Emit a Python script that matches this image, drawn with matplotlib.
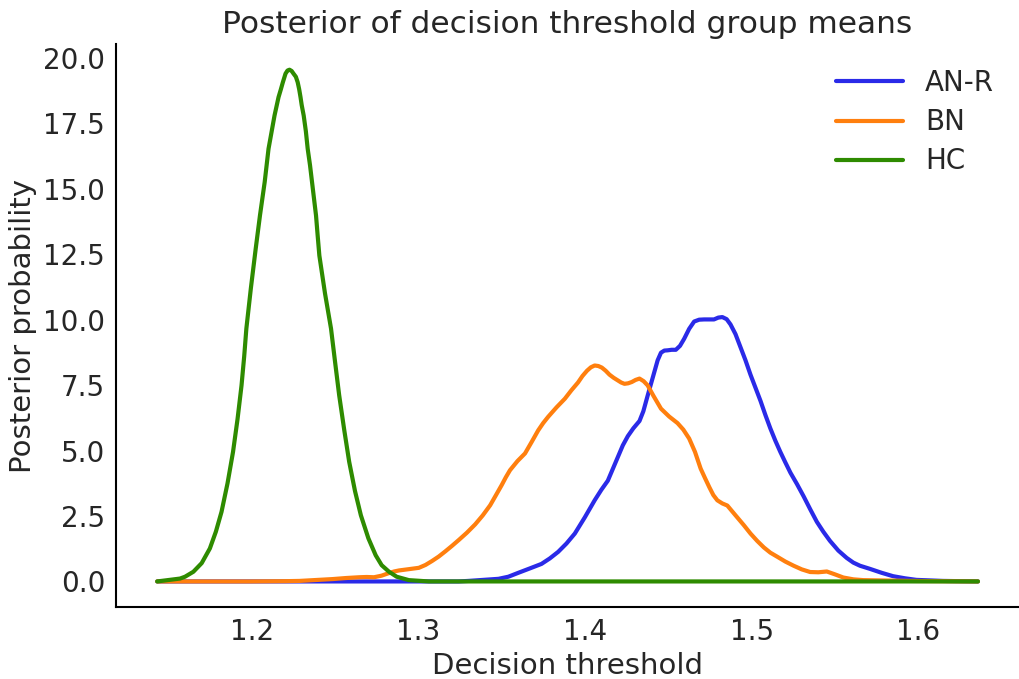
import matplotlib
matplotlib.use("Agg")
import matplotlib.pyplot as plt

# posterior density of the group-mean decision threshold, one curve per group
groups = ["AN-R", "BN", "HC"]
colors = ["#2a2ae8", "#ff7f0e", "#2e8b00"]

anr_x = [1.1433, 1.2287, 1.3242, 1.3300, 1.3481, 1.3540, 1.3600, 1.3670, 1.3739,
         1.3789, 1.3839, 1.3889, 1.3939, 1.3999, 1.4058, 1.4098, 1.4137, 1.4167,
         1.4197, 1.4227, 1.4257, 1.4290, 1.4327, 1.4350, 1.4376, 1.4396, 1.4416,
         1.4436, 1.4456, 1.4476, 1.4496, 1.4520, 1.4545, 1.4570, 1.4595, 1.4625,
         1.4655, 1.4685, 1.4715, 1.4774, 1.4800, 1.4824, 1.4850, 1.4873, 1.4903,
         1.4933, 1.4963, 1.4993, 1.5023, 1.5053, 1.5083, 1.5112, 1.5142, 1.5172,
         1.5202, 1.5233, 1.5272, 1.5312, 1.5352, 1.5391, 1.5430, 1.5470, 1.5520,
         1.5570, 1.5610, 1.5650, 1.5710, 1.5780, 1.5849, 1.5920, 1.5988, 1.6147,
         1.6358]
anr_y = [0.0, 0.0, 0.0, 0.02, 0.10, 0.18, 0.33, 0.50, 0.67,
         0.88, 1.13, 1.45, 1.83, 2.45, 3.10, 3.50, 3.85, 4.30,
         4.75, 5.20, 5.55, 5.85, 6.13, 6.50, 7.10, 7.55, 8.00,
         8.45, 8.74, 8.82, 8.83, 8.85, 8.85, 9.00, 9.27, 9.65,
         9.93, 10.00, 10.01, 10.01, 10.08, 10.10, 10.02, 9.82, 9.45,
         8.95, 8.45, 7.90, 7.40, 6.90, 6.35, 5.85, 5.38, 4.95,
         4.55, 4.15, 3.72, 3.25, 2.75, 2.28, 1.90, 1.55, 1.18,
         0.90, 0.72, 0.60, 0.48, 0.33, 0.20, 0.12, 0.06, 0.02,
         0.0]

bn_x = [1.1433, 1.1988, 1.2200, 1.2287, 1.2485, 1.2565, 1.2645, 1.2690, 1.2734,
        1.2779, 1.2824, 1.2854, 1.2884, 1.2944, 1.3003, 1.3043, 1.3082, 1.3122,
        1.3162, 1.3202, 1.3242, 1.3291, 1.3341, 1.3386, 1.3431, 1.3466, 1.3500,
        1.3525, 1.3550, 1.3595, 1.3640, 1.3680, 1.3719, 1.3749, 1.3779, 1.3829,
        1.3879, 1.3918, 1.3958, 1.3985, 1.4012, 1.4035, 1.4058, 1.4080, 1.4101,
        1.4124, 1.4147, 1.4172, 1.4197, 1.4217, 1.4237, 1.4259, 1.4281, 1.4304,
        1.4327, 1.4352, 1.4376, 1.4410, 1.4456, 1.4505, 1.4555, 1.4590, 1.4625,
        1.4660, 1.4694, 1.4720, 1.4746, 1.4770, 1.4794, 1.4824, 1.4854, 1.4900,
        1.4953, 1.4993, 1.5033, 1.5073, 1.5112, 1.5152, 1.5202, 1.5252, 1.5301,
        1.5351, 1.5400, 1.5451, 1.5500, 1.5550, 1.5610, 1.5670, 1.5946, 1.6358]
bn_y = [0.0, 0.0, 0.01, 0.02, 0.09, 0.13, 0.16, 0.17, 0.16,
        0.22, 0.32, 0.38, 0.42, 0.47, 0.52, 0.63, 0.78, 0.95,
        1.15, 1.36, 1.58, 1.86, 2.18, 2.52, 2.91, 3.30, 3.68,
        3.98, 4.25, 4.60, 4.89, 5.33, 5.77, 6.05, 6.29, 6.65,
        6.98, 7.30, 7.60, 7.85, 8.05, 8.18, 8.25, 8.23, 8.17,
        8.05, 7.90, 7.78, 7.68, 7.60, 7.55, 7.57, 7.62, 7.70,
        7.75, 7.65, 7.49, 7.10, 6.60, 6.30, 6.05, 5.80, 5.46,
        4.95, 4.31, 3.95, 3.60, 3.30, 3.10, 2.98, 2.90, 2.55,
        2.15, 1.83, 1.55, 1.30, 1.10, 0.95, 0.76, 0.60, 0.46,
        0.36, 0.35, 0.38, 0.27, 0.15, 0.08, 0.05, 0.02, 0.0]

hc_x = [1.1433, 1.1570, 1.1600, 1.1650, 1.1700, 1.1749, 1.1785, 1.1819, 1.1855,
        1.1888, 1.1915, 1.1939, 1.1955, 1.1968, 1.1995, 1.2024, 1.2050, 1.2078,
        1.2101, 1.2120, 1.2137, 1.2161, 1.2175, 1.2187, 1.2203, 1.2215, 1.2227,
        1.2240, 1.2251, 1.2265, 1.2276, 1.2285, 1.2293, 1.2300, 1.2312, 1.2325,
        1.2336, 1.2350, 1.2362, 1.2386, 1.2396, 1.2406, 1.2440, 1.2476, 1.2500,
        1.2525, 1.2555, 1.2585, 1.2620, 1.2655, 1.2700, 1.2744, 1.2780, 1.2824,
        1.2870, 1.2943, 1.3063, 1.6358]
hc_y = [0.0, 0.11, 0.18, 0.37, 0.70, 1.26, 1.90, 2.66, 3.75,
        4.95, 6.20, 7.49, 8.60, 9.66, 11.20, 12.71, 14.00, 15.26,
        16.53, 17.20, 17.80, 18.50, 18.80, 19.07, 19.40, 19.52, 19.55,
        19.50, 19.40, 19.28, 19.07, 18.80, 18.50, 18.20, 17.80, 17.20,
        16.53, 15.90, 15.26, 13.98, 13.20, 12.45, 11.00, 9.66, 8.40,
        7.11, 5.80, 4.57, 3.45, 2.53, 1.65, 1.00, 0.62, 0.37,
        0.18, 0.05, 0.0, 0.0]

plt.rcParams["font.family"] = "DejaVu Sans"
plt.rcParams["text.color"] = "#262626"
plt.rcParams["axes.labelcolor"] = "#262626"
plt.rcParams["xtick.color"] = "#262626"
plt.rcParams["ytick.color"] = "#262626"

fig = plt.figure(figsize=(10.19, 6.79), dpi=100)
ax = fig.add_axes([0.114, 0.106, 0.886, 0.829])

for name, c, xs, ys in zip(groups, colors,
                           [anr_x, bn_x, hc_x], [anr_y, bn_y, hc_y]):
    ax.plot(xs, ys, color=c, lw=3, label=name,
            solid_joinstyle="round", solid_capstyle="round")

ax.set_xticks([1.2, 1.3, 1.4, 1.5, 1.6])
ax.set_yticks([0, 2.5, 5, 7.5, 10, 12.5, 15, 17.5, 20])
ax.tick_params(length=0, labelsize=20, pad=8)

for side in ["top", "right"]:
    ax.spines[side].set_visible(False)
for side in ["left", "bottom"]:
    ax.spines[side].set_linewidth(1.5)
    ax.spines[side].set_color("black")

ax.set_xlabel("Decision threshold", fontsize=21)
ax.set_ylabel("Posterior probability", fontsize=21)
ax.set_title("Posterior of decision threshold group means", fontsize=22.5, pad=8)
ax.legend(frameon=False, fontsize=20, loc="upper right", handlelength=2.4,
          labelspacing=0.4)

fig.savefig("out.png", dpi=100)
